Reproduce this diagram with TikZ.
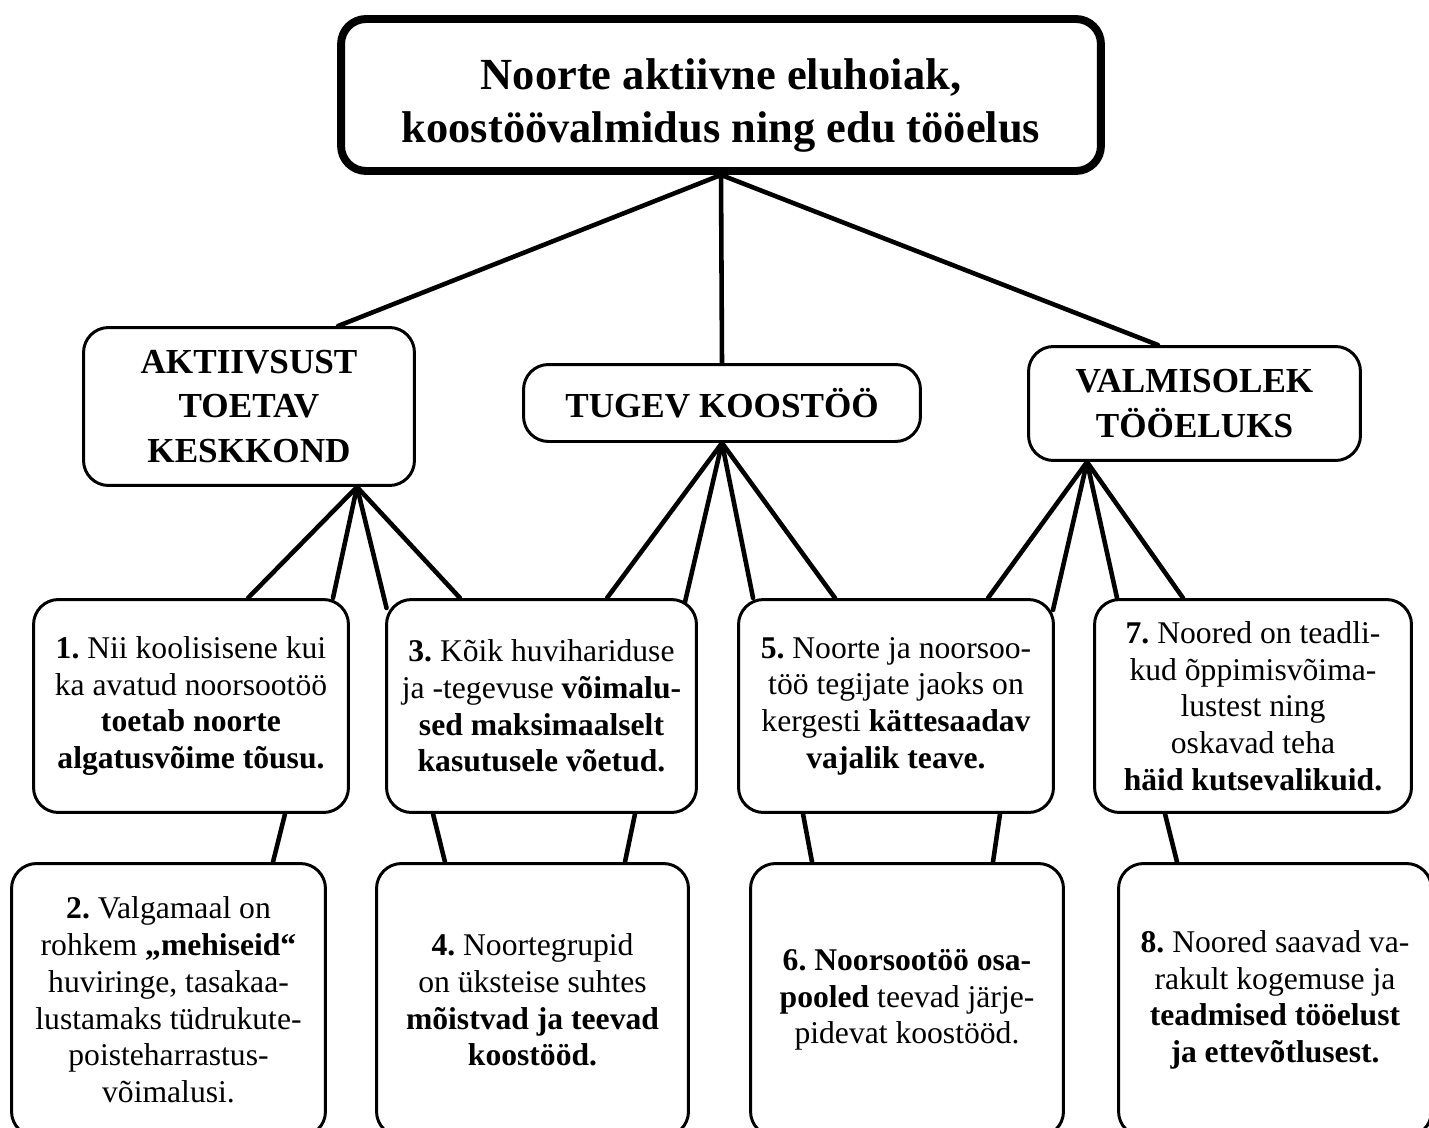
\documentclass[tikz,border=0pt]{standalone}
\usepackage{fontspec}
\setmainfont{Liberation Serif}
\frenchspacing

\begin{document}
\begin{tikzpicture}[line cap=round,line join=round,x=0.02cm,y=-0.02cm,
		box/.style={draw,rounded corners=0.5cm,line width=1.7pt,align=center,inner sep=0pt,font=\fontsize{18}{20.9}\selectfont},
		head/.style={box,font=\bfseries\fontsize{20}{25.5}\selectfont},
		goal/.style={box,line width=4.5pt,font=\bfseries\fontsize{25.3}{30}\selectfont},
		link/.style={line width=2.6pt}]
			\useasboundingbox (0,0) rectangle (1429,1128);
			\clip (0,0) rectangle (1429,1128);
			% eesmark
			\node [goal,minimum width=15.2cm,minimum height=3.04cm] (goal) at (721,95) {\rule{0pt}{1.05cm}Noorte aktiivne eluhoiak,\\koostöövalmidus ning edu tööelus};
			% suunad
			\node [head,minimum width=6.62cm,minimum height=3.16cm] (akt) at (249,406.5) {AKTIIVSUST\\TOETAV\\KESKKOND};
			\node [head,minimum width=7.94cm,minimum height=1.54cm] (tug) at (722,403) {TUGEV KOOSTÖÖ};
			\node [head,minimum width=6.64cm,minimum height=2.28cm] (val) at (1194.5,403.5) {VALMISOLEK\\TÖÖELUKS};
			% tulemused
			\node [box,minimum width=6.3cm,minimum height=4.26cm] (b1) at (191,706) {\textbf{1.} Nii koolisisene kui\\ka avatud noorsootöö\\\textbf{toetab noorte}\\\textbf{algatusvõime tõusu.}};
			\node [box,minimum width=6.2cm,minimum height=4.26cm] (b3) at (541.5,706) {\textbf{3.} Kõik huvihariduse\\ja -tegevuse \textbf{võimalu-}\\\textbf{sed maksimaalselt}\\\textbf{kasutusele võetud.}};
			\node [box,minimum width=6.3cm,minimum height=4.26cm] (b5) at (896,706) {\textbf{5.} Noorte ja noorsoo-\\töö tegijate jaoks on\\kergesti \textbf{kättesaadav}\\\textbf{vajalik teave.}};
			\node [box,minimum width=6.34cm,minimum height=4.26cm] (b7) at (1253,706) {\textbf{7.} Noored on teadli-\\kud õppimisvõima-\\lustest ning\\oskavad teha\\\textbf{häid kutsevalikuid.}};
			\node [box,minimum width=6.28cm,minimum height=5.46cm] (b2) at (168.5,1000) {\textbf{2.} Valgamaal on\\rohkem \textbf{„mehiseid“}\\huviringe, tasakaa-\\lustamaks tüdrukute-\\poisteharrastus-\\võimalusi.};
			\node [box,minimum width=6.24cm,minimum height=5.46cm] (b4) at (532.5,1000) {\textbf{4.} Noortegrupid\\on üksteise suhtes\\\textbf{mõistvad ja teevad}\\\textbf{koostööd.}};
			\node [box,minimum width=6.26cm,minimum height=5.46cm] (b6) at (907,1000) {\textbf{6. Noorsootöö osa-}\\\textbf{pooled} teevad järje-\\pidevat koostööd.};
			\node [box,minimum width=6.26cm,minimum height=5.46cm] (b8) at (1275,1000) {\textbf{8.} Noored saavad va-\\rakult kogemuse ja\\\textbf{teadmised tööelust}\\\textbf{ja ettevõtlusest.}};
			% seosed
			\draw [link] (goal.south) -- ([xshift=1.78cm]akt.north);
			\draw [link] (goal.south) -- (tug.north);
			\draw [link] (goal.south) -- ([xshift=-0.73cm]val.north);
			\draw [link] ([xshift=2.16cm]akt.south) -- ([xshift=1.14cm]b1.north);
			\draw [link] ([xshift=2.16cm]akt.south) -- ([xshift=2.84cm]b1.north);
			\draw [link] ([xshift=2.16cm]akt.south) -- ([shift={(-3.1cm,-0.2cm)}]b3.north);
			\draw [link] ([xshift=2.16cm]akt.south) -- ([xshift=-1.63cm]b3.north);
			\draw [link] (tug.south) -- ([xshift=1.31cm]b3.north);
			\draw [link] (tug.south) -- ([shift={(2.87cm,-0.08cm)}]b3.north);
			\draw [link] (tug.south) -- ([xshift=-2.86cm]b5.north);
			\draw [link] (tug.south) -- ([xshift=-1.22cm]b5.north);
			\draw [link] ([xshift=-2.15cm]val.south) -- ([xshift=1.84cm]b5.north);
			\draw [link] ([xshift=-2.15cm]val.south) -- ([shift={(3.14cm,-0.24cm)}]b5.north);
			\draw [link] ([xshift=-2.15cm]val.south) -- ([xshift=-2.72cm]b7.north);
			\draw [link] ([xshift=-2.15cm]val.south) -- ([xshift=-1.4cm]b7.north);
			\draw [link] ([xshift=1.88cm]b1.south) -- ([xshift=2.09cm]b2.north);
			\draw [link] ([xshift=-2.17cm]b3.south) -- ([xshift=-1.75cm]b4.north);
			\draw [link] ([xshift=1.87cm]b3.south) -- ([xshift=1.85cm]b4.north);
			\draw [link] ([xshift=-1.86cm]b5.south) -- ([xshift=-1.9cm]b6.north);
			\draw [link] ([xshift=2.08cm]b5.south) -- ([xshift=1.72cm]b6.north);
			\draw [link] ([xshift=-1.76cm]b7.south) -- ([xshift=-1.96cm]b8.north);
		\end{tikzpicture}
\end{document}
